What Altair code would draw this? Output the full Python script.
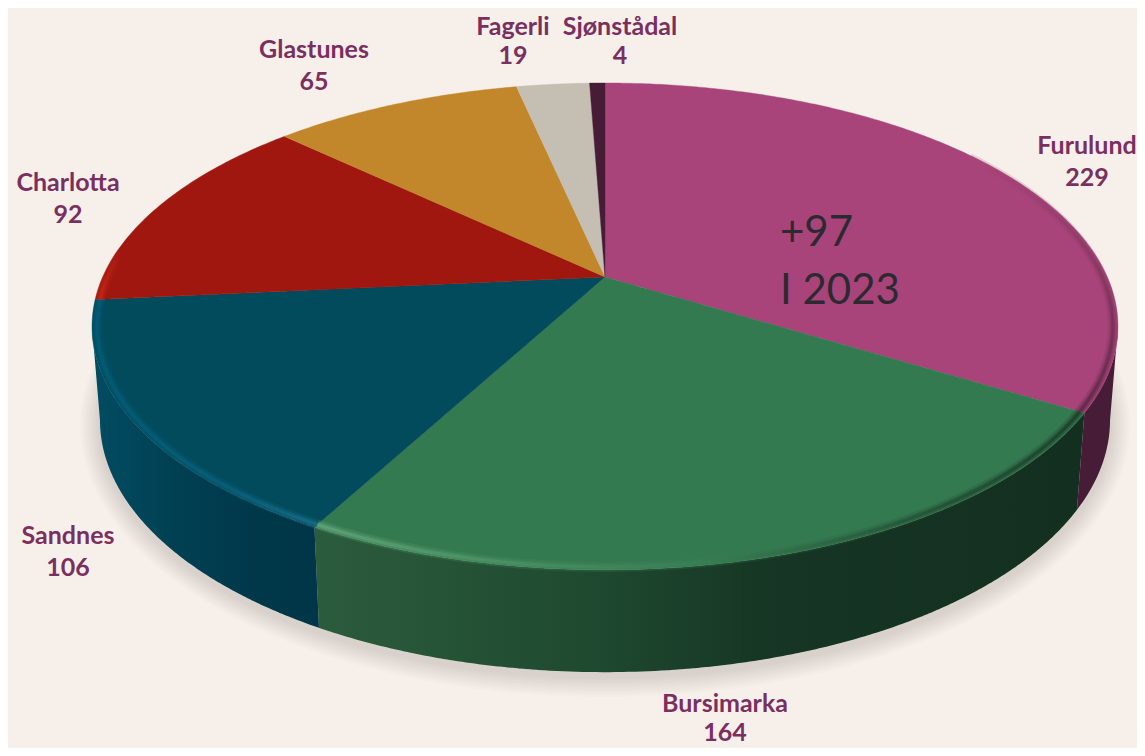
import numpy as np
import pandas as pd
import altair as alt

# ---- data
names = ["Furulund", "Bursimarka", "Sandnes", "Charlotta", "Glastunes", "Fagerli", "Sjønstådal"]
values = [229, 164, 106, 92, 65, 19, 4]
top_colors = ["#A8447A", "#347A50", "#014B5D", "#A01710", "#C1872A", "#C5BEB3", "#471C36"]

# ---- label placement (picture coordinates)
label_x = [1087, 725, 68, 68, 314, 513, 620]
label_y = [146, 704, 536, 183, 50, 27, 27]
value_y = [178, 733, 568, 215, 82, 56, 56]
note_lines = ["+97", "I 2023"]
note_x = 780
note_y = [233, 291]

BG = "#F7F0EA"
LABEL = "#7B2F5E"
W, H = 1137, 748

# ---- tilted-disc projection
K = 0.203
CX = 605.0
TOP = dict(a=502.3, b=233.4, cy=277.0)
LOW = dict(a=494.5, b=241.6, cy=369.0)


def proj(theta_deg, d):
    t = np.radians(theta_deg)
    u, v = np.sin(t), np.cos(t)
    w = 1 + K * v
    return CX + d["a"] * u / w, d["cy"] - d["b"] * v / w


def to_band(px, py):
    """Turn an x-monotone outline into x / y / y2 rows for an area mark."""
    px, py = np.asarray(px, float), np.asarray(py, float)
    qx, qy = np.roll(px, -1), np.roll(py, -1)
    rows = []
    for x in np.unique(np.round(px, 2)):
        ys = []
        for a, b, c, d in zip(px, py, qx, qy):
            lo, hi = min(a, c), max(a, c)
            if lo - 0.006 <= x <= hi + 0.006:
                if abs(a - c) < 1e-6:
                    ys += [b, d]
                else:
                    s = min(1.0, max(0.0, (x - a) / (c - a)))
                    ys.append(b + s * (d - b))
        rows.append({"x": float(x), "y": round(min(ys), 2), "y2": round(max(ys), 2)})
    return pd.DataFrame(rows)


XS = alt.Scale(domain=[8, W], nice=False, zero=False)
YS = alt.Scale(domain=[H, 8], nice=False, zero=False)


def band_layer(df, **mark):
    return alt.Chart(df).mark_area(interpolate="linear", **mark).encode(
        x=alt.X("x:Q", scale=XS, axis=None),
        y=alt.Y("y:Q", scale=YS, axis=None),
        y2="y2:Q",
    )


def grad(stops, vertical=False):
    return alt.LinearGradient(
        gradient="linear",
        stops=[alt.GradientStop(offset=o, color=c) for o, c in stops],
        x1=0, y1=0, x2=0 if vertical else 1, y2=1 if vertical else 0,
    )


total = sum(values)
edges = np.cumsum([0] + values) / total * 360.0
start = edges[:-1]
end = edges[1:]
tangent_r = np.degrees(np.arccos(-K))
tangent_l = 360 - tangent_r

layers = []

# soft shadow below the disc
for grow in range(20, 0, -2):
    phi = np.radians(np.arange(0, 360, 2.0))
    sx = CX + (505 + grow) * np.sin(phi)
    sy = 425 + (252 + grow) * np.cos(phi)
    layers.append(band_layer(to_band(sx, sy), color="#3A3A30", opacity=0.016))

# side walls
wall_fills = {
    0: "#461C36",
    1: grad([(0, "#2B5C3C"), (0.35, "#1F4A30"), (0.6, "#163524"), (1, "#132F20")]),
    2: grad([(0, "#024C62"), (0.4, "#013F52"), (0.7, "#00384A"), (1, "#003647")]),
}
for i, fill in wall_fills.items():
    a = max(start[i], tangent_r)
    b = min(end[i], tangent_l)
    th = np.unique(np.concatenate([np.arange(a, b, 0.6), [b]]))
    tx, ty = proj(th, TOP)
    lx, ly = proj(th[::-1], LOW)
    layers.append(band_layer(to_band(np.r_[tx, lx], np.r_[ty, ly]), color=fill))

# top faces
for i in range(len(values)):
    th = np.unique(np.concatenate([np.arange(start[i], end[i], 0.5), [end[i]]]))
    tx, ty = proj(th, TOP)
    layers.append(
        band_layer(
            to_band(np.r_[CX, tx], np.r_[TOP["cy"], ty]),
            color=top_colors[i],
            stroke=top_colors[i],
            strokeWidth=0.4,
        )
    )

# bevel along the rim
rims = [
    (55, end[0], grad([(0, "#A8447A"), (0.45, "#7D3359"), (1, "#4A1F39")], vertical=True)),
    (start[1], end[1], grad([(0, "#6BAE83"), (0.28, "#4E9468"), (0.5, "#3A7F55"), (0.78, "#1F4A30"), (1, "#14301F")])),
    (start[2], end[2], grad([(0, "#02607A"), (0.6, "#0B6480"), (1, "#20738F")])),
    (start[3], start[3] + 12, grad([(0, "#CC2A12"), (1, "#A01710")])),
]
for a, b, col in rims:
    th = np.unique(np.concatenate([np.arange(a, b, 0.5), [b]]))
    tx, ty = proj(th, TOP)
    # pull slightly inward from the outer edge
    rx = CX + (tx - CX) * 0.99
    ry = TOP["cy"] + (ty - TOP["cy"]) * 0.99
    df = pd.DataFrame({"x": np.round(rx, 2), "y": np.round(ry, 2), "o": np.arange(len(rx))})
    for sw, op in [(10, 0.2), (6, 0.3), (3, 0.5)]:
        layers.append(
            alt.Chart(df).mark_line(stroke=col, strokeWidth=sw, opacity=op, strokeCap="butt").encode(
                x=alt.X("x:Q", scale=XS, axis=None),
                y=alt.Y("y:Q", scale=YS, axis=None),
                order="o:Q",
            )
        )

# labels
name_df = pd.DataFrame({"x": label_x, "y": label_y, "t": names})
val_df = pd.DataFrame({"x": label_x, "y": value_y, "t": [str(v) for v in values]})
for df in (name_df, val_df):
    layers.append(
        alt.Chart(df).mark_text(font="Lato", fontWeight="bold", fontSize=25, color=LABEL, baseline="middle", align="center").encode(
            x=alt.X("x:Q", scale=XS, axis=None),
            y=alt.Y("y:Q", scale=YS, axis=None),
            text="t:N",
        )
    )

note_df = pd.DataFrame({"x": [note_x] * len(note_lines), "y": note_y, "t": note_lines})
layers.append(
    alt.Chart(note_df).mark_text(font="Lato", fontSize=42, color="#2C2A30", baseline="middle", align="left").encode(
        x=alt.X("x:Q", scale=XS, axis=None),
        y=alt.Y("y:Q", scale=YS, axis=None),
        text="t:N",
    )
)

chart = (
    alt.layer(*layers)
    .properties(
        width=W - 8,
        height=H - 8,
        background=BG,
        padding=0,
        autosize=alt.AutoSizeParams(type="none"),
    )
    .configure_view(stroke=None)
)

chart.save("out.html", embed_options={"renderer": "svg", "actions": False})
